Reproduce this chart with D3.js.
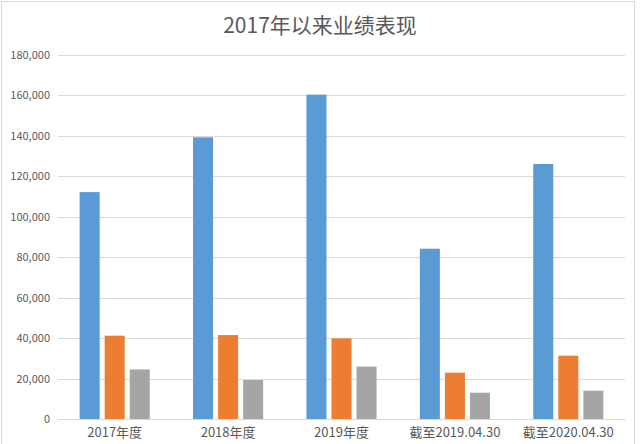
<!DOCTYPE html>
<html>
<head>
<meta charset="utf-8">
<script src="https://cdn.jsdelivr.net/npm/d3@7"></script>
<style>
  body { margin: 0; background: #fff; }
  text { font-family: "Noto Sans CJK SC", "Noto Sans", sans-serif; }
</style>
</head>
<body>
<div id="chart"></div>
<script>
// chart data
const categories = ["2017年度", "2018年度", "2019年度", "截至2019.04.30", "截至2020.04.30"];
const seriesNames = ["s1", "s2", "s3"];
const series1 = [112200, 139300, 160400, 84200, 126100];
const series2 = [41200, 41500, 39900, 22900, 31300];
const series3 = [24500, 19300, 25900, 13000, 14000];
const yTicks = [0, 20000, 40000, 60000, 80000, 100000, 120000, 140000, 160000, 180000];
const colors = ["#5B9BD5", "#ED7D31", "#A5A5A5"];

const width = 640;
const height = 444;
const plotLeft = 58;
const plotRight = 625;
const plotTop = 55;
const plotBottom = 419;

const svg = d3.select("#chart")
    .append("svg")
    .attr("width", width)
    .attr("height", height);

// outer chart border
svg.append("rect")
    .attr("x", 1.5).attr("y", 1.5)
    .attr("width", 633).attr("height", 445)
    .attr("fill", "#fff")
    .attr("stroke", "#d9d9d9");

// title
svg.append("text")
    .attr("x", 320)
    .attr("y", 33)
    .attr("text-anchor", "middle")
    .attr("font-size", 21)
    .attr("fill", "#595959")
    .text("2017年以来业绩表现");

const y = d3.scaleLinear()
    .domain([0, 180000])
    .range([plotBottom, plotTop]);

const x0 = d3.scaleBand()
    .domain(categories)
    .range([plotLeft, plotRight])
    .padding(0);

// bars inside a group: width 20, gap 5
const x1 = d3.scaleBand()
    .domain(seriesNames)
    .range([0, x0.bandwidth()])
    .paddingInner(0.2)
    .paddingOuter(0.864);

// gridlines
svg.append("g")
    .selectAll("line")
    .data(yTicks)
    .enter().append("line")
    .attr("x1", plotLeft)
    .attr("x2", plotRight)
    .attr("y1", d => Math.round(y(d)) + 0.5)
    .attr("y2", d => Math.round(y(d)) + 0.5)
    .attr("stroke", "#d9d9d9")
    .attr("stroke-width", 1);

// y axis labels
const yAxis = d3.axisLeft(y)
    .tickValues(yTicks)
    .tickSize(0)
    .tickPadding(0)
    .tickFormat(d3.format(","));

svg.append("g")
    .attr("transform", `translate(${plotLeft - 8},0)`)
    .call(yAxis)
    .call(g => g.select(".domain").remove())
    .call(g => g.selectAll("text")
        .attr("font-size", 11)
        .attr("fill", "#595959")
        .attr("font-family", "'Open Sans', 'Noto Sans', sans-serif"));

// bars
const rows = categories.map((c, i) => ({
    category: c,
    values: [series1[i], series2[i], series3[i]]
}));

svg.append("g")
    .selectAll("g")
    .data(rows)
    .enter().append("g")
    .attr("transform", d => `translate(${x0(d.category)},0)`)
    .selectAll("rect")
    .data(d => d.values.map((v, k) => ({ key: seriesNames[k], value: v, k: k })))
    .enter().append("rect")
    .attr("x", d => x1(d.key))
    .attr("width", x1.bandwidth())
    .attr("y", d => y(d.value))
    .attr("height", d => y(0) - y(d.value))
    .attr("fill", d => colors[d.k]);

// x axis
const xAxis = d3.axisBottom(x0)
    .tickSize(0)
    .tickPadding(9);

svg.append("g")
    .attr("transform", `translate(0,${plotBottom})`)
    .call(xAxis)
    .call(g => g.select(".domain").attr("stroke", "#d9d9d9"))
    .call(g => g.selectAll("text")
        .attr("font-size", 13)
        .attr("fill", "#595959")
        .attr("font-family", "'Noto Sans CJK SC', sans-serif"));
</script>
</body>
</html>
